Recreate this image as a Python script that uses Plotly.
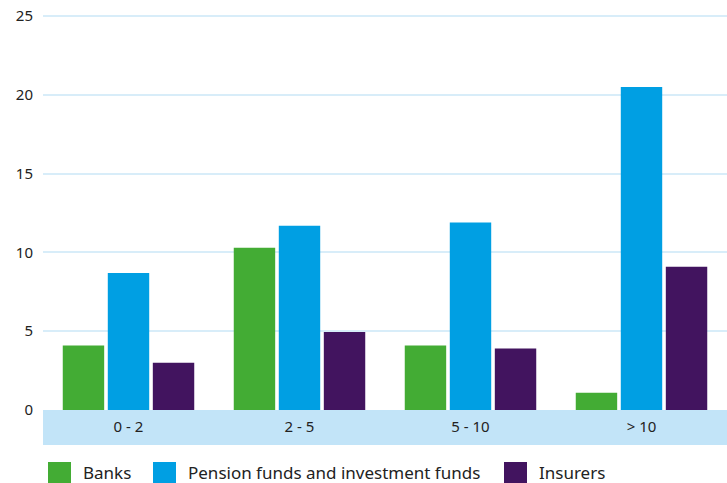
"""
Grouped bars by maturity bucket
"""
import plotly.graph_objects as go

categories = ["0 - 2", "2 - 5", "5 - 10", "> 10"]
series_names = ["Banks", "Pension funds and investment funds", "Insurers"]
banks = [4.1, 10.3, 4.1, 1.1]
pension = [8.7, 11.7, 11.9, 20.5]
insurers = [3.0, 4.95, 3.9, 9.1]
y_ticks = [0, 5, 10, 15, 20, 25]

colors = ["#43ac34", "#009fe3", "#42145f"]

W, H = 727, 483
L, T, B = 43, 13, 73
PW, PH = W - L, H - T - B


def px_x(px):
    return (px - L) / PW


def px_y(py):
    return (H - B - py) / PH


fig = go.Figure()
for name, vals, col in zip(series_names, [banks, pension, insurers], colors):
    fig.add_trace(go.Bar(x=categories, y=vals, name=name, marker_color=col,
                         marker_line_width=0, showlegend=False))

# light blue band behind the category labels
fig.add_shape(type="rect", xref="paper", yref="paper",
              x0=0, x1=1, y0=px_y(445), y1=0,
              fillcolor="#c2e4f8", line_width=0, layer="below")

# legend drawn as big squares
legend_sq = [48, 153, 504]
for name, col, sx in zip(series_names, colors, legend_sq):
    fig.add_shape(type="rect", xref="paper", yref="paper",
                  x0=px_x(sx), x1=px_x(sx + 23), y0=px_y(485), y1=px_y(462),
                  fillcolor=col, line_width=0)
    fig.add_annotation(x=px_x(sx + 33), y=px_y(472), xref="paper", yref="paper",
                       text=name, showarrow=False, xanchor="left", yanchor="middle",
                       font=dict(size=17, color="#222222"))

fig.update_layout(
    width=W, height=H,
    margin=dict(l=L, r=0, t=T, b=B),
    plot_bgcolor="white", paper_bgcolor="white",
    font=dict(family="Noto Sans", size=15, color="#222222"),
    bargap=0.21, bargroupgap=0.08,
    showlegend=False,
    xaxis=dict(showgrid=False, showline=False, ticks="", tickfont=dict(size=15),
               ticklabelstandoff=6),
    yaxis=dict(range=[0, 25.2], tickvals=y_ticks, showgrid=True,
               gridcolor="#d8edf9", gridwidth=1.5, zeroline=False,
               ticks="", ticklabelstandoff=9),
)

fig.write_html("out.html", config={"displayModeBar": False},
               post_script="document.body.style.margin='0';")
